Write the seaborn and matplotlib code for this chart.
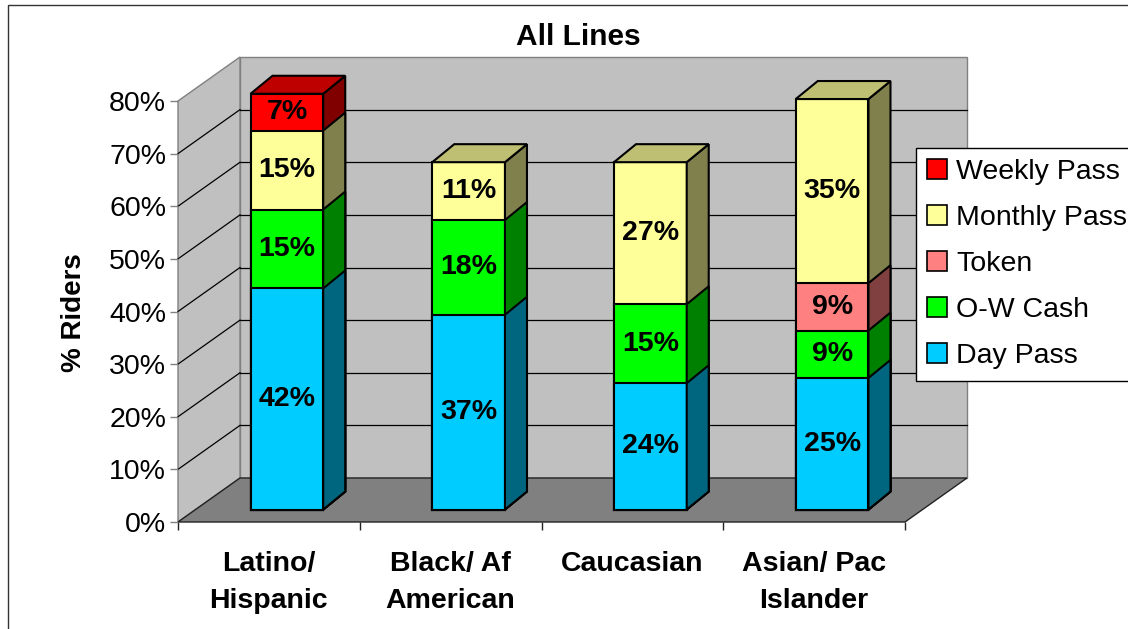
import matplotlib
matplotlib.use("Agg")
import matplotlib.pyplot as plt
import numpy as np
import pandas as pd
import seaborn as sns
from matplotlib.patches import Polygon, Rectangle, Patch
from matplotlib import colors as mcolors

plt.rcParams["font.family"] = ["Liberation Sans", "DejaVu Sans"]

# ---- data -------------------------------------------------------------
categories = ["Latino/\nHispanic", "Black/ Af\nAmerican", "Caucasian", "Asian/ Pac\nIslander"]
day_pass = [42, 37, 24, 25]
ow_cash = [15, 18, 15, 9]
token = [0, 0, 0, 9]
monthly_pass = [15, 11, 27, 35]
weekly_pass = [7, 0, 0, 0]

series_names = ["Day Pass", "O-W Cash", "Token", "Monthly Pass", "Weekly Pass"]
series_values = [day_pass, ow_cash, token, monthly_pass, weekly_pass]
series_colors = ["#00ccff", "#00ff00", "#ff8080", "#ffff99", "#ff0000"]
y_ticks = [0, 10, 20, 30, 40, 50, 60, 70, 80]
y_tick_labels = [f"{t}%" for t in y_ticks]

# ---- figure / axes (front plane of the 3-D box) -----------------------
FIG_W, FIG_H = 1128, 629
AX_L, AX_B, AX_W, AX_H = 178, 107, 727, 421          # pixels
XLIM = (-0.5, len(categories) - 0.5)
YLIM = (0, 80)
FS = 20.5

fig = plt.figure(figsize=(FIG_W / 100, FIG_H / 100), dpi=100)
ax = fig.add_axes([AX_L / FIG_W, AX_B / FIG_H, AX_W / FIG_W, AX_H / FIG_H])
ax.patch.set_visible(False)
for s in ax.spines.values():
    s.set_visible(False)


def off(dx_px, dy_px):
    """Convert an oblique depth offset in pixels to data units."""
    return (dx_px * (XLIM[1] - XLIM[0]) / AX_W,
            dy_px * (YLIM[1] - YLIM[0]) / AX_H)


FLOOR_DEPTH = off(62, 44)
BAR_FRONT = off(18, 12.5)
BAR_DEPTH = off(22, 18)


def shade(color, f):
    r, g, b = mcolors.to_rgb(color)
    return (r * f, g * f, b * f)


# ---- walls, floor, gridlines ------------------------------------------
x0, x1 = XLIM
fx, fy = FLOOR_DEPTH
wall_kw = dict(clip_on=False, lw=1)
ax.add_patch(Rectangle((x0 + fx, fy), x1 - x0, YLIM[1], fc="#c0c0c0", ec="#808080",
                       zorder=0.5, **wall_kw))
ax.add_patch(Polygon([(x0, 0), (x0, YLIM[1]), (x0 + fx, YLIM[1] + fy), (x0 + fx, fy)],
                     closed=True, fc="#c0c0c0", ec="#808080", zorder=0.55, **wall_kw))
for t in y_ticks[1:-1]:
    ax.plot([x0 + fx, x1 + fx], [t + fy, t + fy], color="black", lw=0.9,
            zorder=0.6, clip_on=False)
    ax.plot([x0, x0 + fx], [t, t + fy], color="black", lw=0.9, zorder=0.6, clip_on=False)
ax.add_patch(Polygon([(x0, 0), (x1, 0), (x1 + fx, fy), (x0 + fx, fy)], closed=True,
                     fc="#808080", ec="#222222", zorder=0.7, **wall_kw))

# ---- stacked 3-D bars ---------------------------------------------------
cum = np.cumsum(np.array(series_values), axis=0)
n_series = len(series_values)
bx, by = BAR_FRONT
dx, dy = BAR_DEPTH

# topmost non-empty segment of every bar carries the lid
top_idx = [max(k for k in range(n_series) if series_values[k][j] > 0)
           for j in range(len(categories))]

for k in reversed(range(n_series)):
    z = 2 + (n_series - k) * 0.1
    before = len(ax.patches)
    df = pd.DataFrame({"group": categories, "value": cum[k]})
    sns.barplot(data=df, x="group", y="value", color=series_colors[k], saturation=1,
                width=0.4, edgecolor="black", linewidth=1.5, errorbar=None,
                ax=ax, zorder=z)
    bars = ax.patches[before:]
    for j, p in enumerate(bars):
        p.set_clip_on(False)
        v = series_values[k][j]
        if v == 0:
            p.set_visible(False)
            continue
        p.set_x(p.get_x() + bx)
        p.set_y(p.get_y() + by)
        xl = p.get_x()
        xr = xl + p.get_width()
        yb = p.get_y()
        yt = yb + p.get_height()
        ax.add_patch(Polygon([(xr, yb), (xr, yt), (xr + dx, yt + dy), (xr + dx, yb + dy)],
                             closed=True, fc=shade(series_colors[k], 0.5), ec="black",
                             lw=1.5, zorder=z, clip_on=False))
        if top_idx[j] == k:
            ax.add_patch(Polygon([(xl, yt), (xr, yt), (xr + dx, yt + dy), (xl + dx, yt + dy)],
                                 closed=True, fc=shade(series_colors[k], 0.75), ec="black",
                                 lw=1.5, zorder=z, clip_on=False))
        ax.text((xl + xr) / 2, yt - v / 2, f"{v}%",
                ha="center", va="center", fontsize=FS, fontweight="bold",
                zorder=5, clip_on=False)

# ---- axes dressing ------------------------------------------------------
ax.set_xlim(*XLIM)
ax.set_ylim(*YLIM)
ax.set_yticks(y_ticks)
ax.set_yticklabels(y_tick_labels)
ax.tick_params(axis="y", left=True, length=6, width=1, color="#808080", pad=2.5,
               labelsize=FS)
ax.set_xticks(range(len(categories)))
ax.set_xticklabels(categories, fontweight="bold", fontsize=FS, linespacing=1.55)
ax.set_xticks([i - 0.5 for i in range(len(categories) + 1)], minor=True)
ax.tick_params(axis="x", which="major", length=0, pad=21)
ax.tick_params(axis="x", which="minor", bottom=True, length=6, width=1, color="#222222")
ax.set_xlabel("")
ax.set_ylabel("% Riders", fontsize=20, fontweight="bold")
ax.yaxis.set_label_coords((87 - AX_L) / AX_W, (522 - 312.5) / AX_H)

fig.text(578 / FIG_W, 1 - 37 / FIG_H, "All Lines", ha="center", va="center",
         fontsize=21.5, fontweight="bold")

handles = [Patch(facecolor=c, edgecolor="black", lw=1.2, label=n)
           for n, c in zip(reversed(series_names), reversed(series_colors))]
fig.legend(handles=handles, loc="upper left",
           bbox_to_anchor=(916 / FIG_W, 1 - 148 / FIG_H), bbox_transform=fig.transFigure,
           frameon=True, fancybox=False, edgecolor="black", framealpha=1,
           fontsize=FS, handlelength=0.7, handleheight=0.7, handletextpad=0.32,
           labelspacing=0.7, borderpad=0.4, borderaxespad=0)

# chart-area border
fig.add_artist(Rectangle((8 / FIG_W, -0.02), 1.05, 1 - 5 / FIG_H + 0.02,
                         transform=fig.transFigure, fill=False, ec="#333333", lw=1))

fig.savefig("out.png", dpi=100)
